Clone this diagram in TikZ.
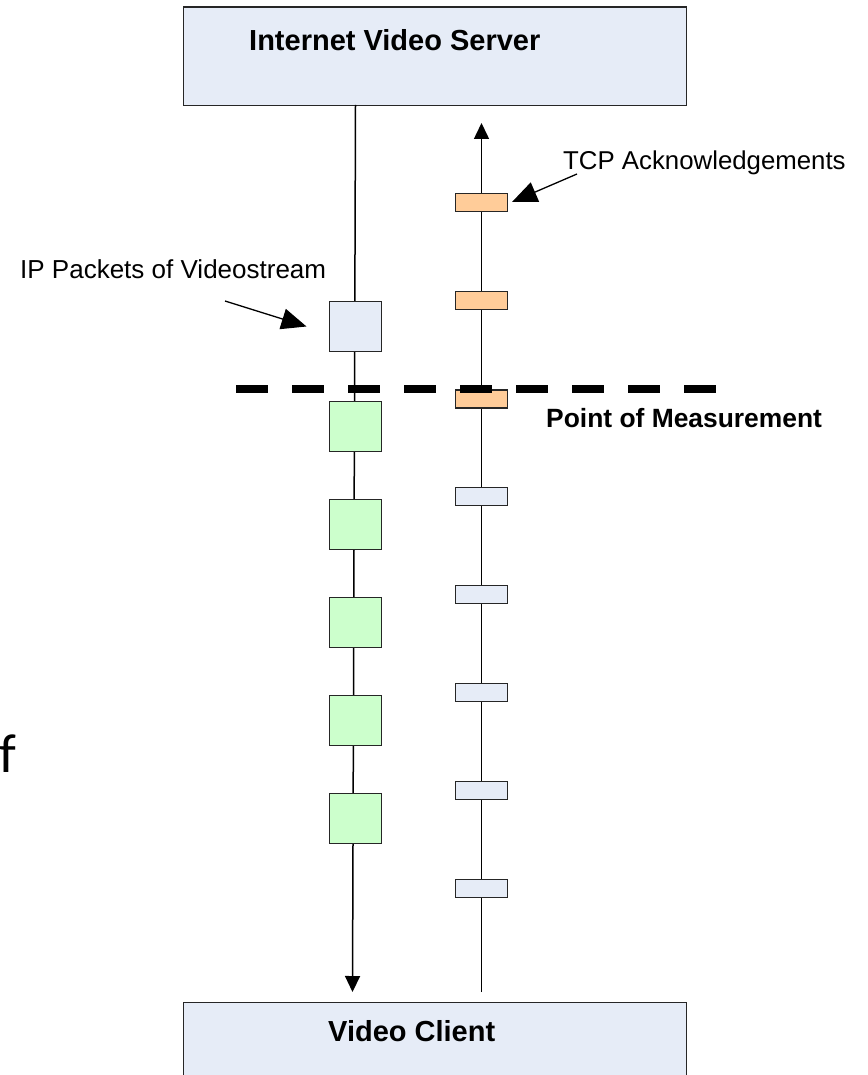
\documentclass[tikz,border=0pt]{standalone}
\usepackage{fontspec}
\setmainfont{Liberation Sans}
\newfontfamily\calibrifont{Carlito}
\usetikzlibrary{arrows.meta}
\definecolor{paleblue}{HTML}{E6ECF7}
\definecolor{palegreen}{HTML}{CCFFCC}
\definecolor{paleorange}{HTML}{FFCC99}
\definecolor{edgegray}{HTML}{262626}

\begin{document}
\begin{tikzpicture}[x=1pt,y=-1pt,
  hostbox/.style={draw=edgegray, line width=1.3pt, fill=paleblue,
    minimum width=503pt, inner sep=0pt, anchor=north west},
  bigpkt/.style={draw=edgegray, line width=1.2pt, minimum width=52pt,
    minimum height=50pt, inner sep=0pt},
  smallpkt/.style={draw=edgegray, line width=1.2pt, minimum width=52pt,
    minimum height=18pt, inner sep=0pt},
  flow/.style={line width=1.5pt, draw=black, -{Triangle[length=16pt,width=15pt]}},
  pointer/.style={line width=1.3pt, draw=black, -{Triangle[length=25pt,width=21pt]}},
  measure/.style={line width=8pt, draw=black, dash pattern=on 31.7pt off 24.3pt},
  title/.style={font=\bfseries\fontsize{29}{34}\selectfont, anchor=base west, inner sep=0pt},
  plain/.style={font=\fontsize{26}{31}\selectfont, anchor=base west, inner sep=0pt}
]
\useasboundingbox (0,0) rectangle (867,1075);
\clip (0,0) rectangle (867,1075);

% end hosts
\node[hostbox, minimum height=98.5pt] (server) at (183,6.5) {};
\node[hostbox, minimum height=98pt] (client) at (183,1002) {};
\node[title] (servertxt) at (249,51) {Internet Video Server};
\node[title] (clienttxt) at (328,1041) {Video Client};

% stream lines
\coordinate (ls) at (355.5,105);
\coordinate (le) at (352.5,992);
\coordinate (rs) at (481.5,992);
\coordinate (re) at (481.5,123);
\draw[flow] (ls) -- (le);
\draw[flow] (rs) -- (re);

% video packets (downstream)
\node[bigpkt, fill=paleblue] (vp0) at (355.8,326.7) {};
\foreach \i/\y in {1/426.8, 2/524.8, 3/622.8, 4/720.8, 5/818.8}
  \node[bigpkt, fill=palegreen] (vp\i) at (355.3,\y) {};

% acknowledgements (upstream)
\foreach \i/\y in {1/202.8, 2/300.8, 3/399}
  \node[smallpkt, fill=paleorange] (ack\i) at (481.2,\y) {};
\foreach \i/\y in {1/496.5, 2/594.5, 3/692.5, 4/790.5, 5/888.5}
  \node[smallpkt, fill=paleblue] (ackb\i) at (481.2,\y) {};

% point of measurement
\coordinate (pm1) at (236,389);
\coordinate (pm2) at (716,389);
\draw[measure] (pm1) -- (pm2);
\node[font=\bfseries\fontsize{26.4}{31}\selectfont, anchor=base west, inner sep=0pt]
  (pmtxt) at (546,427) {Point of Measurement};

% callouts
\node[plain] (iptxt) at (20,278) {IP Packets of Videostream};
\coordinate (ipfrom) at (225,301);
\coordinate (ipto) at (306.5,326.5);
\draw[pointer] (ipfrom) -- (ipto);

\node[plain, font=\fontsize{25.8}{31}\selectfont] (tcptxt) at (563,170) {TCP Acknowledgements};
\coordinate (tcpfrom) at (577,174);
\coordinate (tcpto) at (512,202);
\draw[pointer] (tcpfrom) -- (tcpto);

% word cut at the left margin
\node[font=\calibrifont\fontsize{55}{60}\selectfont, anchor=base east, inner sep=0pt]
  (ofword) at (17,772) {of};
\end{tikzpicture}
\end{document}
